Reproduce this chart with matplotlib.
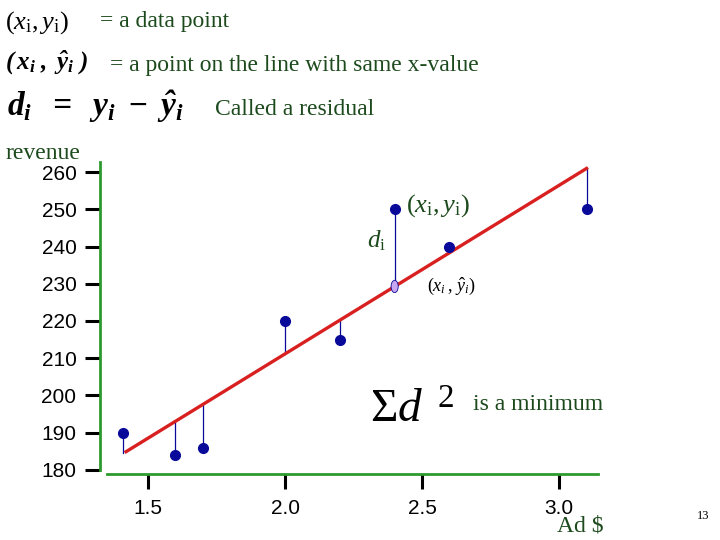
import matplotlib
matplotlib.use("Agg")
import matplotlib.pyplot as plt
from matplotlib.patches import Ellipse
import numpy as np

plt.rcParams['mathtext.fontset'] = 'custom'
plt.rcParams['mathtext.rm'] = 'Liberation Serif'
plt.rcParams['mathtext.it'] = 'Liberation Serif:italic'
plt.rcParams['mathtext.bf'] = 'Liberation Serif:bold:italic'

# data: ad spend vs revenue
ad = [1.41, 1.6, 1.7, 2.0, 2.2, 2.4, 2.6, 3.1]
revenue = [190, 184, 186, 220, 215, 250, 240, 250]
line_x = [1.42, 3.10]
highlight = 2.4  # the point whose residual is labelled

x_ticks = [1.5, 2.0, 2.5, 3.0]
x_labels = ['1.5', '2.0', '2.5', '3.0']
y_ticks = [180, 190, 200, 210, 220, 230, 240, 250, 260]

green = '#1d4a1d'
navy = '#0a0a9a'
serif = 'Liberation Serif'

slope, icpt = np.polyfit(ad, revenue, 1)

fig = plt.figure(figsize=(7.2, 5.4), dpi=100)
ax = fig.add_axes([0.1389, 0.1222, 0.6917, 0.5778])
ax.set_xlim(1.325, 3.142)
ax.set_ylim(178.9, 262.7)

# residuals
for xv, yv in zip(ad, revenue):
    ax.plot([xv, xv], [yv, slope * xv + icpt], color=navy, lw=0.9, zorder=2)

lx = np.array(line_x)
ax.plot(lx, slope * lx + icpt, color='#d92020', lw=2.4, zorder=3)
ax.plot(ad, revenue, 'o', color=navy, ms=7, zorder=4)
ax.add_patch(Ellipse((highlight, slope * highlight + icpt), 0.026, 3.3,
                     facecolor='#c7a7f2', edgecolor=navy, lw=0.6, zorder=5))

for s in ['top', 'right']:
    ax.spines[s].set_visible(False)
ax.spines['left'].set_color('#2e9a2e')
ax.spines['bottom'].set_color('#2e9a2e')
ax.spines['left'].set_linewidth(2)
ax.spines['bottom'].set_linewidth(2)
ax.spines['left'].set_bounds(180, 262.7)
ax.spines['bottom'].set_bounds(1.35, 3.142)

ax.set_yticks(y_ticks)
ax.set_yticklabels([str(v) for v in y_ticks], fontsize=15, family='Liberation Sans')
ax.set_xticks(x_ticks)
ax.set_xticklabels(x_labels, fontsize=15, family='Liberation Sans')
ax.tick_params(axis='y', length=11, width=2.2, pad=6)
ax.tick_params(axis='x', length=11, width=2.2, pad=7)

# labels in the plot
ax.text(2.44, 251, r'$(x_{\mathrm{i}},y_{\mathrm{i}})$', fontsize=19, color=green, va='center')
ax.text(2.37, 241.5, r'$d_{\mathrm{i}}$', fontsize=18, color=green, ha='right', va='center')
ax.text(2.518, 229.3, r'$(x_i\,,\,\hat{y}_i)$', fontsize=13, color='black', va='center')
ax.text(2.31, 196, r'$\Sigma d^{\;\;2}$', fontsize=34, color='black', va='center')
ax.text(2.686, 197.6, 'is a minimum', fontsize=17, color=green, va='center', family=serif)

# header
fig.text(0.007, 0.958, r'$(x_{\mathrm{i}},y_{\mathrm{i}})$', fontsize=19, va='center')
fig.text(0.139, 0.960, '= a data point', fontsize=17, color=green, va='center', family=serif)
fig.text(0.007, 0.885, r'$\mathbf{(\,x_i\ ,\ \hat{y}_i\ )}$', fontsize=18, va='center')
fig.text(0.153, 0.879, '= a point on the line with same x-value', fontsize=17,
         color=green, va='center', family=serif)
fig.text(0.010, 0.803, r'$\mathbf{d_i\ \ =\ \ y_i\ -\ \hat{y}_i}$', fontsize=24, va='center')
fig.text(0.298, 0.797, 'Called a residual', fontsize=17, color=green, va='center', family=serif)

fig.text(0.007, 0.716, 'revenue', fontsize=17, color=green, va='center', family=serif)
fig.text(0.773, 0.006, 'Ad $', fontsize=17, color=green, va='bottom', family=serif)
fig.text(0.968, 0.044, '13', fontsize=9, va='center', family=serif)

fig.savefig('out.png', dpi=100)
